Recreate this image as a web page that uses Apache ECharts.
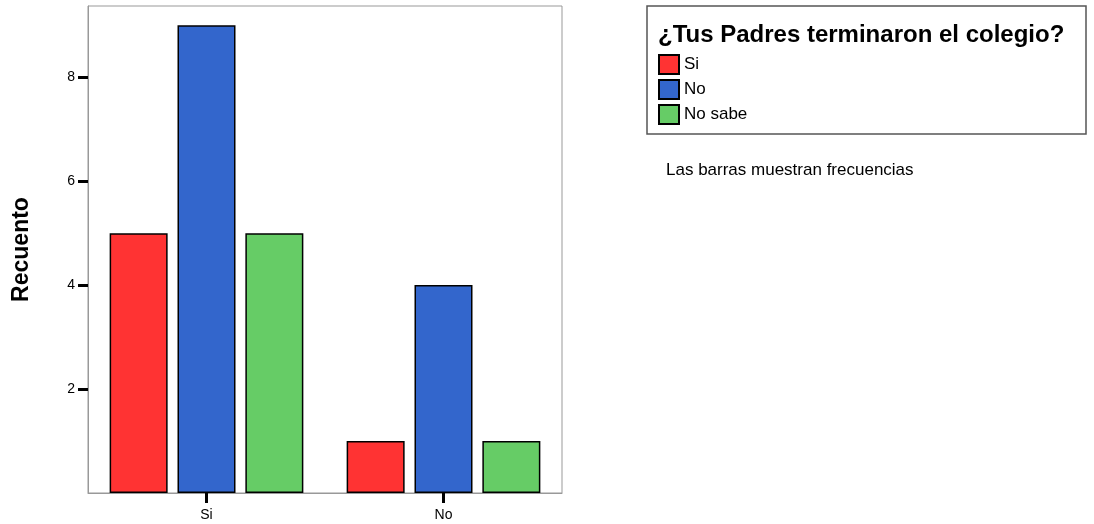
<!DOCTYPE html>
<html>
<head>
<meta charset="utf-8">
<script src="https://cdn.jsdelivr.net/npm/echarts@6/dist/echarts.min.js"></script>
<style>
  html, body { margin: 0; padding: 0; background: #fff; }
  #main { width: 1094px; height: 524px; }
</style>
</head>
<body>
<div id="main"></div>
<script>
var categories = ['Si', 'No'];
var seriesNames = ['Si', 'No', 'No sabe'];
var siValues = [5, 1];
var noValues = [9, 4];
var noSabeValues = [5, 1];
var yTicks = [2, 4, 6, 8];
var colors = ['#FF3333', '#3366CC', '#66CC66'];

var font = "'Liberation Sans', Arial, sans-serif";

function barSeries(name, data, color) {
    return {
        name: name,
        type: 'bar',
        data: data,
        barWidth: 58,
        barGap: '17%',
        itemStyle: { color: color, borderColor: '#000', borderWidth: 1.5 }
    };
}

var chart = echarts.init(document.getElementById('main'));
var option = {
    animation: false,
    textStyle: { fontFamily: font },
    title: [
        {
            text: '¿Tus Padres terminaron el colegio?',
            left: 658, top: 23, padding: 0,
            textStyle: { fontFamily: font, fontSize: 24, fontWeight: 'bold', color: '#000' }
        },
        {
            text: 'Las barras muestran frecuencias',
            left: 666, top: 162, padding: 0,
            textStyle: { fontFamily: font, fontSize: 17, fontWeight: 'normal', color: '#000' }
        }
    ],
    graphic: [
        {
            type: 'rect',
            shape: { x: 647, y: 6, width: 439, height: 128 },
            style: { fill: 'none', stroke: '#555', lineWidth: 1.5 }
        }
    ],
    legend: {
        orient: 'vertical',
        left: 658, top: 54, padding: 0,
        icon: 'rect',
        itemWidth: 20, itemHeight: 19, itemGap: 4,
        textStyle: { fontFamily: font, fontSize: 17, color: '#000' },
        data: seriesNames
    },
    grid: {
        left: 88, top: 6, width: 474, height: 487,
        show: true, borderColor: '#999', borderWidth: 1
    },
    xAxis: {
        type: 'category',
        data: categories,
        axisLine: { show: true, lineStyle: { color: '#999', width: 1 } },
        axisTick: { show: true, alignWithLabel: true, length: 10, lineStyle: { color: '#000', width: 3 } },
        axisLabel: { fontSize: 14, color: '#000', margin: 15 }
    },
    yAxis: {
        type: 'value',
        min: 0, max: 9.37,
        name: 'Recuento',
        nameLocation: 'middle',
        nameGap: 55,
        nameTextStyle: { fontFamily: font, fontSize: 23, fontWeight: 'bold', color: '#000' },
        axisLine: { show: true, lineStyle: { color: '#999', width: 1 } },
        splitLine: { show: false },
        axisTick: { show: true, length: 10, customValues: yTicks, lineStyle: { color: '#000', width: 3 } },
        axisLabel: { fontSize: 14, color: '#000', margin: 13, customValues: yTicks }
    },
    series: [
        barSeries(seriesNames[0], siValues, colors[0]),
        barSeries(seriesNames[1], noValues, colors[1]),
        barSeries(seriesNames[2], noSabeValues, colors[2])
    ]
};
option && chart.setOption(option);
</script>
</body>
</html>
